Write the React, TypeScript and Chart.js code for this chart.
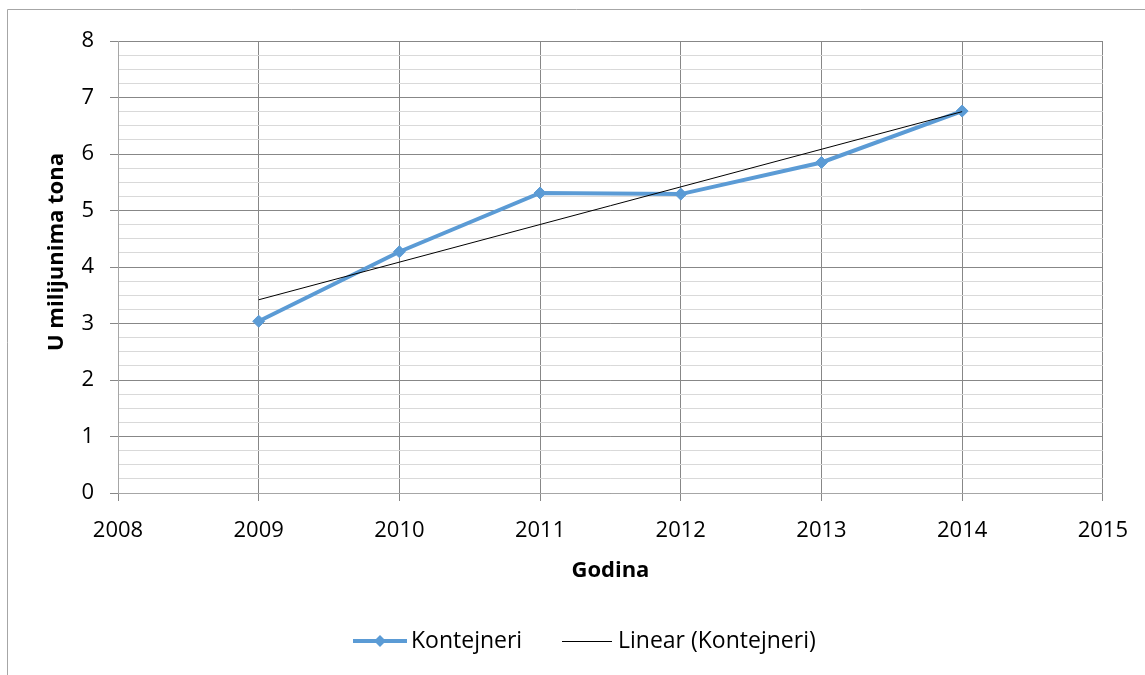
import React, { useEffect, useRef } from 'react';
import { Chart, registerables } from 'chart.js';

Chart.register(...registerables);

const years = [2009, 2010, 2011, 2012, 2013, 2014];
const kontejneri = [3.04, 4.27, 5.31, 5.29, 5.85, 6.76];
const trendYears = [2009, 2014];
const trendValues = [3.42, 6.75];
const xMin = 2008;
const xMax = 2015;
const yMin = 0;
const yMax = 8;
const yMinorStep = 0.25;
const seriesLabel = 'Kontejneri';
const trendLabel = 'Linear (Kontejneri)';
const xTitle = 'Godina';
const yTitle = 'U milijunima tona';

const FONT = '"Open Sans", sans-serif';
const BLUE = '#5B9BD5';
const MAJOR = '#878787';
const MINOR = '#d9d9d9';

const decorPlugin = {
  id: 'decor',
  afterDraw(chart: any) {
    const ctx = chart.ctx;
    const area = chart.chartArea;
    ctx.save();
    // outer border (top + left)
    ctx.strokeStyle = '#a6a6a6';
    ctx.lineWidth = 1;
    ctx.beginPath();
    ctx.moveTo(7.5, 675);
    ctx.lineTo(7.5, 9.5);
    ctx.lineTo(1145, 9.5);
    ctx.stroke();

    // axis titles
    ctx.fillStyle = '#000';
    ctx.font = `bold 22px ${FONT}`;
    ctx.textAlign = 'center';
    ctx.textBaseline = 'middle';
    ctx.fillText(xTitle, (area.left + area.right) / 2, 571);
    ctx.save();
    ctx.translate(57, 252);
    ctx.rotate(-Math.PI / 2);
    ctx.fillText(yTitle, 0, 0);
    ctx.restore();

    // legend
    const ly = 641;
    ctx.strokeStyle = BLUE;
    ctx.lineWidth = 4;
    ctx.beginPath();
    ctx.moveTo(353, ly);
    ctx.lineTo(407, ly);
    ctx.stroke();
    ctx.fillStyle = BLUE;
    ctx.beginPath();
    ctx.moveTo(380, ly - 6);
    ctx.lineTo(386, ly);
    ctx.lineTo(380, ly + 6);
    ctx.lineTo(374, ly);
    ctx.closePath();
    ctx.fill();
    ctx.strokeStyle = '#000';
    ctx.lineWidth = 1;
    ctx.beginPath();
    ctx.moveTo(562, ly + 0.5);
    ctx.lineTo(612, ly + 0.5);
    ctx.stroke();
    ctx.fillStyle = '#000';
    ctx.font = `23px ${FONT}`;
    ctx.textAlign = 'left';
    ctx.fillText(seriesLabel, 411, ly);
    ctx.fillText(trendLabel, 618, ly);
    ctx.restore();
  },
};

export default function App() {
  const ref = useRef<HTMLCanvasElement | null>(null);
  useEffect(() => {
    if (!ref.current) return;
    const chart = new Chart(ref.current, {
      type: 'line',
      data: {
        datasets: [
          {
            label: trendLabel,
            data: trendYears.map((x, i) => ({ x, y: trendValues[i] })),
            borderColor: '#000',
            borderWidth: 1,
            pointRadius: 0,
            fill: false,
          },
          {
            label: seriesLabel,
            data: years.map((x, i) => ({ x, y: kontejneri[i] })),
            borderColor: BLUE,
            backgroundColor: BLUE,
            borderWidth: 4,
            pointStyle: 'rectRot',
            pointRadius: 6,
            pointBorderWidth: 1,
            fill: false,
          },
        ],
      },
      options: {
        responsive: false,
        animation: false,
        layout: { padding: { left: 0, top: 41, right: 42, bottom: 0 } },
        plugins: { legend: { display: false }, tooltip: { enabled: false } },
        scales: {
          x: {
            type: 'linear',
            min: xMin,
            max: xMax,
            ticks: {
              stepSize: 1,
              autoSkip: false,
              callback: (v: any) => String(v),
              font: { family: FONT, size: 22 },
              color: '#000',
              padding: 17,
              maxRotation: 0,
            },
            grid: { color: MAJOR, tickLength: 8, tickColor: MAJOR },
            border: { color: '#a6a6a6' },
            afterFit: (s: any) => {
              s.height = 182;
            },
          },
          y: {
            type: 'linear',
            min: yMin,
            max: yMax,
            ticks: {
              stepSize: yMinorStep,
              autoSkip: false,
              callback: (v: any) => (Number.isInteger(v) ? String(v) : ''),
              font: { family: FONT, size: 22 },
              color: '#000',
              padding: 16,
            },
            grid: {
              color: (c: any) => (Number.isInteger(c.tick?.value) ? MAJOR : MINOR),
              tickColor: (c: any) => (Number.isInteger(c.tick?.value) ? MAJOR : 'rgba(0,0,0,0)'),
              tickLength: 8,
            },
            border: { color: '#a6a6a6' },
            afterFit: (s: any) => {
              s.width = 118;
            },
          },
        },
      },
      plugins: [decorPlugin],
    });
    return () => chart.destroy();
  }, []);
  return (
    <div style={{ position: 'absolute', left: 0, top: 0, width: 1145, height: 675, background: '#fff' }}>
      <canvas ref={ref} width={1145} height={675} style={{ width: 1145, height: 675 }} />
    </div>
  );
}
